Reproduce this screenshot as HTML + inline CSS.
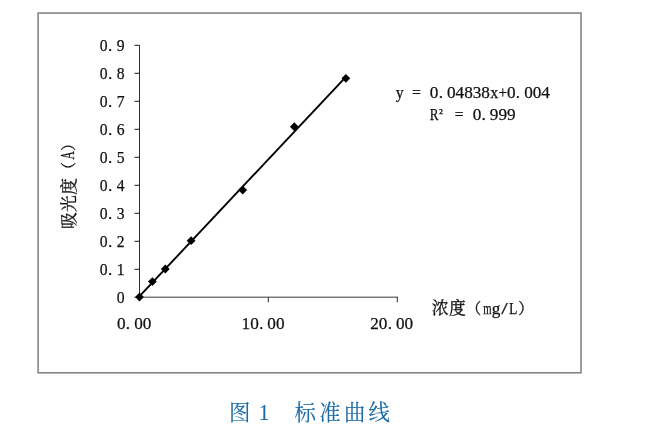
<!DOCTYPE html>
<html lang="zh-CN">
<head>
<meta charset="utf-8">
<title>图 1 标准曲线</title>
<style>
html,body{margin:0;padding:0;background:#fff;}
body{width:657px;height:433px;overflow:hidden;}
svg{display:block;}
text{font-family:"Liberation Serif","Noto Serif CJK SC",serif;white-space:pre;}
.t{font-size:17.2px;fill:#111;stroke:#111;stroke-width:0.25px;}
.sup{font-size:13.0px;}
.c{font-size:16.8px;fill:#111;stroke:#111;stroke-width:0.3px;}
.p{font-size:15.2px;}
.cap{font-size:21.4px;fill:#196aa6;stroke:#196aa6;stroke-width:0.12px;}
.capn{font-size:23.5px;stroke-width:0.1px;}
</style>
</head>
<body>
<svg width="657" height="433" viewBox="0 0 657 433" role="img" aria-label="图 1 标准曲线">
<rect x="0" y="0" width="657" height="433" fill="#ffffff"/>
<rect x="38.1" y="13.05" width="542.9" height="359.75" fill="none" stroke="#858585" stroke-width="1.6"/>
<line x1="139.5" y1="45" x2="139.5" y2="297" stroke="#1a1a1a" stroke-width="0.9"/>
<path d="M134.5 297.30H139.5M134.5 269.30H139.5M134.5 241.30H139.5M134.5 213.30H139.5M134.5 185.30H139.5M134.5 157.30H139.5M134.5 129.30H139.5M134.5 101.30H139.5M134.5 73.30H139.5M134.5 45.30H139.5" stroke="#1a1a1a" stroke-width="1" fill="none"/>
<line x1="139" y1="297.2" x2="398" y2="297.2" stroke="#7a7a7a" stroke-width="1.5"/>
<path d="M268.30 297V302.3M397.30 297V302.3" stroke="#2a2a2a" stroke-width="1" fill="none"/>
<text class="t" y="51.20"><tspan x="99.64" textLength="7.83" lengthAdjust="spacingAndGlyphs">0</tspan><tspan x="108.08">.</tspan><tspan x="116.80" textLength="7.83" lengthAdjust="spacingAndGlyphs">9</tspan></text>
<text class="t" y="79.20"><tspan x="99.64" textLength="7.83" lengthAdjust="spacingAndGlyphs">0</tspan><tspan x="108.08">.</tspan><tspan x="116.80" textLength="7.83" lengthAdjust="spacingAndGlyphs">8</tspan></text>
<text class="t" y="107.20"><tspan x="99.64" textLength="7.83" lengthAdjust="spacingAndGlyphs">0</tspan><tspan x="108.08">.</tspan><tspan x="116.80" textLength="7.83" lengthAdjust="spacingAndGlyphs">7</tspan></text>
<text class="t" y="135.20"><tspan x="99.64" textLength="7.83" lengthAdjust="spacingAndGlyphs">0</tspan><tspan x="108.08">.</tspan><tspan x="116.80" textLength="7.83" lengthAdjust="spacingAndGlyphs">6</tspan></text>
<text class="t" y="163.20"><tspan x="99.64" textLength="7.83" lengthAdjust="spacingAndGlyphs">0</tspan><tspan x="108.08">.</tspan><tspan x="116.80" textLength="7.83" lengthAdjust="spacingAndGlyphs">5</tspan></text>
<text class="t" y="191.20"><tspan x="99.64" textLength="7.83" lengthAdjust="spacingAndGlyphs">0</tspan><tspan x="108.08">.</tspan><tspan x="116.80" textLength="7.83" lengthAdjust="spacingAndGlyphs">4</tspan></text>
<text class="t" y="219.20"><tspan x="99.64" textLength="7.83" lengthAdjust="spacingAndGlyphs">0</tspan><tspan x="108.08">.</tspan><tspan x="116.80" textLength="7.83" lengthAdjust="spacingAndGlyphs">3</tspan></text>
<text class="t" y="247.20"><tspan x="99.64" textLength="7.83" lengthAdjust="spacingAndGlyphs">0</tspan><tspan x="108.08">.</tspan><tspan x="116.80" textLength="7.83" lengthAdjust="spacingAndGlyphs">2</tspan></text>
<text class="t" y="275.20"><tspan x="99.64" textLength="7.83" lengthAdjust="spacingAndGlyphs">0</tspan><tspan x="108.08">.</tspan><tspan x="116.80" textLength="7.83" lengthAdjust="spacingAndGlyphs">1</tspan></text>
<text class="t" y="303.20"><tspan x="116.80" textLength="7.83" lengthAdjust="spacingAndGlyphs">0</tspan></text>
<text class="t" y="329.00"><tspan x="116.99">0</tspan><tspan x="125.82">.</tspan><tspan x="134.15">0</tspan><tspan x="142.73">0</tspan></text>
<text class="t" y="329.00"><tspan x="241.59">1</tspan><tspan x="250.17">0</tspan><tspan x="259.00">.</tspan><tspan x="267.33">0</tspan><tspan x="275.91">0</tspan></text>
<text class="t" y="329.00"><tspan x="370.29">2</tspan><tspan x="378.87">0</tspan><tspan x="387.70">.</tspan><tspan x="396.03">0</tspan><tspan x="404.61">0</tspan></text>
<line x1="139.6" y1="296.2" x2="343.8" y2="79.1" stroke="#000" stroke-width="1.9"/>
<path d="M135.10 297.00L139.50 292.60L143.90 297.00L139.50 301.40ZM148.00 281.60L152.40 277.20L156.80 281.60L152.40 286.00ZM160.90 269.00L165.30 264.60L169.70 269.00L165.30 273.40ZM186.70 240.72L191.10 236.32L195.50 240.72L191.10 245.12ZM238.30 190.04L242.70 185.64L247.10 190.04L242.70 194.44ZM289.90 126.76L294.30 122.36L298.70 126.76L294.30 131.16ZM341.50 78.32L345.90 73.92L350.30 78.32L345.90 82.72Z" fill="#000"/>
<text class="t" y="97.50"><tspan x="395.83" textLength="7.91" lengthAdjust="spacingAndGlyphs">y</tspan><tspan x="406.22"> </tspan><tspan x="411.99" textLength="8.92" lengthAdjust="spacingAndGlyphs">=</tspan><tspan x="423.38"> </tspan><tspan x="429.81">0</tspan><tspan x="438.64">.</tspan><tspan x="446.97">0</tspan><tspan x="455.55">4</tspan><tspan x="464.13">8</tspan><tspan x="472.71">3</tspan><tspan x="481.29">8</tspan><tspan x="490.13" textLength="8.08" lengthAdjust="spacingAndGlyphs">x</tspan><tspan x="498.48" textLength="8.54" lengthAdjust="spacingAndGlyphs">+</tspan><tspan x="507.03">0</tspan><tspan x="515.86">.</tspan><tspan x="524.19">0</tspan><tspan x="532.77">0</tspan><tspan x="541.35">4</tspan></text>
<text class="t" y="120.2"><tspan x="429.73" textLength="8.72" lengthAdjust="spacingAndGlyphs">R</tspan><tspan class="sup" x="438.98" y="116.6">²</tspan><tspan y="120.2"><tspan x="449.10"> </tspan><tspan x="454.87" textLength="8.92" lengthAdjust="spacingAndGlyphs">=</tspan><tspan x="466.26"> </tspan><tspan x="472.69">0</tspan><tspan x="481.52">.</tspan><tspan x="489.85">9</tspan><tspan x="498.43">9</tspan><tspan x="507.01">9</tspan></tspan></text>
<text class="c" y="314.2"><tspan x="431.7">浓</tspan><tspan x="449.0">度</tspan><tspan class="p" x="466.0" y="313.6">（</tspan><tspan class="t" y="313.6"><tspan x="483.24" textLength="8.30" lengthAdjust="spacingAndGlyphs">m</tspan><tspan x="491.67">g</tspan><tspan x="501.32" textLength="6.46" lengthAdjust="spacingAndGlyphs">/</tspan><tspan x="508.93" textLength="8.41" lengthAdjust="spacingAndGlyphs">L</tspan></tspan><tspan class="p" x="518.3" y="313.6">）</tspan></text>
<text class="c" transform="translate(75.0 229.3) rotate(-90)" y="0"><tspan x="0.2">吸</tspan><tspan x="17.4">光</tspan><tspan x="34.6">度</tspan><tspan class="p" x="52.0" y="-0.6">（</tspan><tspan class="t" style="font-size:17.8px" y="-0.7"><tspan x="69.78" textLength="8.23" lengthAdjust="spacingAndGlyphs">A</tspan></tspan><tspan class="p" x="78.2" y="-0.6">）</tspan></text>
<text class="cap" y="419.7"><tspan x="229.0">图</tspan><tspan class="capn" y="419.8"> <tspan x="258.71" textLength="10.58" lengthAdjust="spacingAndGlyphs">1</tspan> </tspan><tspan x="294.4" y="419.7">标</tspan><tspan x="319.2">准</tspan><tspan x="344.0">曲</tspan><tspan x="368.4">线</tspan></text>
</svg>
</body>
</html>
